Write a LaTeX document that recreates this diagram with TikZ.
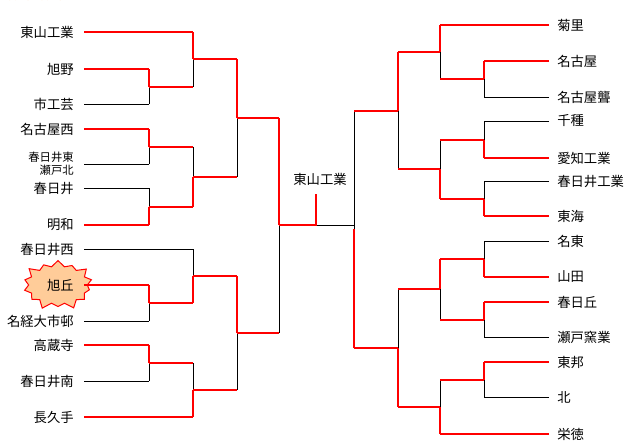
\documentclass[tikz,border=0pt]{standalone}
\usepackage{fontspec}
\setmainfont{Noto Sans CJK JP}
\usetikzlibrary{shapes.symbols,calc}

% one match: name, upper entry, lower entry, column, styles (horiz/vert upper, horiz/vert lower)
\newcommand\bout[8]{%
  \coordinate (m#1) at ($(#2)!.5!(#3)$);
  \coordinate (#1) at (m#1 -| #4);
  \draw[#6] (#2 -| #4) -- (#1);
  \draw[#8] (#3 -| #4) -- (#1);
  \draw[#5] (#2) -- (#2 -| #4);
  \draw[#7] (#3) -- (#3 -| #4);
}

\begin{document}
\begin{tikzpicture}[x=0.75pt,y=-0.75pt,
    lose/.style={black,line width=0.75pt},
    win/.style={red,line width=1.5pt},
    lteam/.style={anchor=east,inner xsep=7.5pt,inner ysep=0pt,font=\fontsize{10}{12}\selectfont},
    rteam/.style={anchor=west,inner xsep=6pt,inner ysep=0pt,font=\fontsize{10}{12}\selectfont}]
\useasboundingbox (0,0) rectangle (631,447);
% columns
\coordinate (L1) at (149,0); \coordinate (L2) at (193,0);
\coordinate (L3) at (237,0); \coordinate (L4) at (279,0);
\coordinate (R1) at (484,0); \coordinate (R2) at (440,0);
\coordinate (R3) at (398,0); \coordinate (R4) at (354,0);
\coordinate (CH) at (316,0);

\node[starburst,starburst points=14,starburst point height=6pt,fill=orange!40,draw=red,
  line width=0.75pt,minimum width=56pt*0.75,minimum height=40pt*0.75,inner sep=0pt] (burst) at (58,285) {};

% left teams
\node[lteam] (l1) at (84,32) {東山工業};
\node[lteam] (l2) at (84,69) {旭野};
\node[lteam] (l3) at (84,104) {市工芸};
\node[lteam] (l4) at (84,129) {名古屋西};
\node[lteam,align=right,font=\fontsize{8.5}{9.5}\selectfont] (l5) at (84,164) {春日井東\\瀬戸北};
\node[lteam] (l6) at (84,188) {春日井};
\node[lteam] (l7) at (84,225) {明和};
\node[lteam] (l8) at (84,249) {春日井西};
\node[lteam] (l9) at (84,285) {旭丘};
\node[lteam] (l10) at (84,321) {名経大市邨};
\node[lteam] (l11) at (84,345) {高蔵寺};
\node[lteam] (l12) at (84,381) {春日井南};
\node[lteam] (l13) at (84,417) {長久手};

% right teams
\node[rteam] (r1) at (549,25) {菊里};
\node[rteam] (r2) at (549,61) {名古屋};
\node[rteam] (r3) at (549,97) {名古屋聾};
\node[rteam] (r4) at (549,121) {千種};
\node[rteam] (r5) at (549,158) {愛知工業};
\node[rteam] (r6) at (549,181) {春日井工業};
\node[rteam] (r7) at (549,216) {東海};
\node[rteam] (r8) at (549,241) {名東};
\node[rteam] (r9) at (549,277) {山田};
\node[rteam] (r10) at (549,302) {春日丘};
\node[rteam] (r11) at (549,337) {瀬戸窯業};
\node[rteam] (r12) at (549,362) {東邦};
\node[rteam] (r13) at (549,397) {北};
\node[rteam] (r14) at (549,434) {栄徳};

% left half
\bout{a1}{l2.east}{l3.east}{L1}{win}{win}{lose}{lose}
\bout{b1}{l1.east}{a1}{L2}{win}{win}{win}{lose}
\bout{a2}{l4.east}{l5.east}{L1}{win}{win}{lose}{lose}
\bout{a3}{l6.east}{l7.east}{L1}{lose}{lose}{win}{win}
\bout{b2}{a2}{a3}{L2}{win}{lose}{win}{win}
\bout{c1}{b1}{b2}{L3}{win}{win}{win}{lose}
\bout{a4}{l9.east}{l10.east}{L1}{win}{win}{lose}{lose}
\bout{b3}{l8.east}{a4}{L2}{lose}{lose}{win}{win}
\bout{a5}{l11.east}{l12.east}{L1}{win}{win}{lose}{lose}
\bout{b4}{a5}{l13.east}{L2}{win}{lose}{win}{win}
\bout{c2}{b3}{b4}{L3}{win}{win}{win}{lose}
\bout{d1}{c1}{c2}{L4}{win}{win}{win}{lose}

% right half
\bout{u1}{r2.west}{r3.west}{R1}{win}{win}{lose}{lose}
\bout{u2}{r1.west}{u1}{R2}{win}{win}{win}{lose}
\bout{u3}{r4.west}{r5.west}{R1}{lose}{lose}{win}{win}
\bout{u4}{r6.west}{r7.west}{R1}{lose}{lose}{win}{win}
\bout{u5}{u3}{u4}{R2}{win}{lose}{win}{win}
\bout{v1}{u2}{u5}{R3}{win}{win}{win}{lose}
\bout{u6}{r8.west}{r9.west}{R1}{lose}{lose}{win}{win}
\bout{u7}{r10.west}{r11.west}{R1}{win}{win}{lose}{lose}
\bout{u8}{u6}{u7}{R2}{win}{win}{win}{lose}
\bout{u9}{r12.west}{r13.west}{R1}{win}{win}{lose}{lose}
\bout{u10}{u9}{r14.west}{R2}{win}{lose}{win}{win}
\bout{v2}{u8}{u10}{R3}{win}{lose}{win}{win}
\bout{f1}{v1}{v2}{R4}{win}{lose}{win}{win}

% final
\coordinate (champ) at (d1 -| CH);
\coordinate (top) at (316,194);
\draw[lose] (champ) -- (champ -| f1);
\draw[win] (d1) -- (champ) -- (top);
\node[font=\fontsize{10}{12}\selectfont] (winner) at (320,179) {東山工業};
\end{tikzpicture}
\end{document}
